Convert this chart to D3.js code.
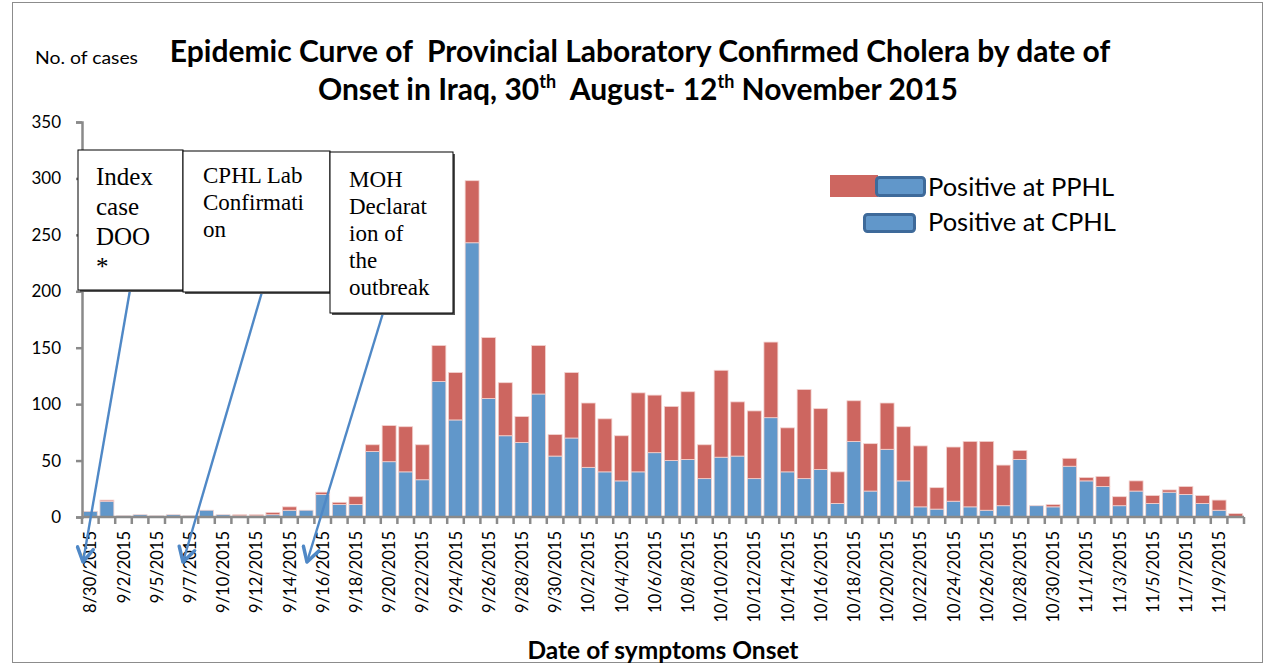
<!DOCTYPE html>
<html><head><meta charset="utf-8">
<script src="https://cdn.jsdelivr.net/npm/d3@7"></script>
<style>
html,body{margin:0;padding:0;background:#fff;}
svg{display:block;}
</style></head>
<body>
<svg id="chart" width="1270" height="666"></svg>
<script>
// ---------- DATA ----------
const dates = ["8/30/2015","8/31/2015","9/2/2015","9/3/2015","9/5/2015","9/6/2015","9/7/2015","9/8/2015","9/10/2015","9/11/2015",
"9/12/2015","9/13/2015","9/14/2015","9/15/2015","9/16/2015","9/17/2015","9/18/2015","9/19/2015","9/20/2015","9/21/2015",
"9/22/2015","9/23/2015","9/24/2015","9/25/2015","9/26/2015","9/27/2015","9/28/2015","9/29/2015","9/30/2015","10/1/2015",
"10/2/2015","10/3/2015","10/4/2015","10/5/2015","10/6/2015","10/7/2015","10/8/2015","10/9/2015","10/10/2015","10/11/2015",
"10/12/2015","10/13/2015","10/14/2015","10/15/2015","10/16/2015","10/17/2015","10/18/2015","10/19/2015","10/20/2015","10/21/2015",
"10/22/2015","10/23/2015","10/24/2015","10/25/2015","10/26/2015","10/27/2015","10/28/2015","10/29/2015","10/30/2015","10/31/2015",
"11/1/2015","11/2/2015","11/3/2015","11/4/2015","11/5/2015","11/6/2015","11/7/2015","11/8/2015","11/9/2015","11/10/2015"];

const positiveCPHL = [5,14,1,2,1,2,1,6,2,1,
1,2,6,6,20,11,11,58,49,40,
33,120,86,243,105,72,66,109,54,70,
44,40,32,40,57,50,51,34,53,54,
34,88,40,34,42,12,67,23,60,32,
9,7,14,9,6,10,51,10,9,45,
32,27,10,23,12,22,20,12,6,0];

const positivePPHL = [0,1,0,0,0,0,0,0,0,1,
1,2,3,0,2,2,7,6,32,40,
31,32,42,55,54,47,23,43,19,58,
57,47,40,70,51,48,60,30,77,48,
60,67,39,79,54,28,36,42,41,48,
54,19,48,58,61,36,8,0,2,7,
3,9,8,9,7,2,7,7,9,3];

const tickLabels = ["8/30/2015","9/2/2015","9/5/2015","9/7/2015","9/10/2015","9/12/2015","9/14/2015","9/16/2015","9/18/2015",
"9/20/2015","9/22/2015","9/24/2015","9/26/2015","9/28/2015","9/30/2015","10/2/2015","10/4/2015","10/6/2015","10/8/2015",
"10/10/2015","10/12/2015","10/14/2015","10/16/2015","10/18/2015","10/20/2015","10/22/2015","10/24/2015","10/26/2015",
"10/28/2015","10/30/2015","11/1/2015","11/3/2015","11/5/2015","11/7/2015","11/9/2015"];

const yTicks = [0,50,100,150,200,250,300,350];

const seriesNames = ["Positive at CPHL","Positive at PPHL"];
const seriesColors = ["#6197CA","#CD6660"];

// ---------- LAYOUT ----------
const svg = d3.select("#chart");
const FONT = "Lato, 'Open Sans', sans-serif";
const x0 = 82, x1 = 1244, yTop = 122, yBase = 517;

// outer frame
svg.append("rect").attr("x",12.5).attr("y",2.5).attr("width",1250).attr("height",660)
  .attr("fill","none").attr("stroke","#8c8c8c").attr("stroke-width",1);

const x = d3.scaleBand().domain(dates).range([x0,x1]).paddingInner(0.16).paddingOuter(0.08);
const y = d3.scaleLinear().domain([0,350]).range([yBase,yTop]);

const table = dates.map((d,i)=>({date:d, cphl:positiveCPHL[i], pphl:positivePPHL[i]}));
const stack = d3.stack().keys(["cphl","pphl"])(table);

const g = svg.append("g");
g.selectAll("g.series").data(stack).join("g")
  .attr("fill",(d,i)=>seriesColors[i])
  .selectAll("rect").data(d=>d).join("rect")
  .attr("x",d=>x(d.data.date))
  .attr("width",x.bandwidth())
  .attr("y",d=>y(d[1]))
  .attr("height",d=>Math.max(0,y(d[0])-y(d[1])))
  .attr("stroke","#f3d3d0").attr("stroke-width",0.8);

// Y axis
const yAxis = d3.axisLeft(y).tickValues(yTicks).tickSize(6).tickPadding(15);
const ya = svg.append("g").attr("transform",`translate(${x0},0)`).call(yAxis);
ya.select(".domain").attr("stroke","#8a8a8a").attr("stroke-width",2.5);
ya.selectAll(".tick line").attr("stroke","#8a8a8a").attr("stroke-width",2.5);
ya.selectAll(".tick text").attr("font-family",FONT).attr("font-size",17).attr("fill","#000");

// X axis: ticks at category boundaries
const xAxisG = svg.append("g");
xAxisG.append("line").attr("x1",x0).attr("x2",x1).attr("y1",yBase).attr("y2",yBase)
  .attr("stroke","#8a8a8a").attr("stroke-width",2.5);
xAxisG.selectAll("line.tk").data(dates.concat(["end"])).join("line").attr("class","tk")
  .attr("x1",(d,i)=>x0 + (x1-x0)*i/dates.length).attr("x2",(d,i)=>x0 + (x1-x0)*i/dates.length)
  .attr("y1",yBase).attr("y2",yBase+7).attr("stroke","#8a8a8a").attr("stroke-width",2.5);
xAxisG.selectAll("text.lbl").data(dates.filter(d=>tickLabels.includes(d))).join("text").attr("class","lbl")
  .attr("transform",d=>`translate(${x(d)+x.bandwidth()/2+6},${yBase+14}) rotate(-90)`)
  .attr("text-anchor","end").attr("font-family",FONT).attr("font-size",16.5).attr("fill","#000")
  .text(d=>d);

// Axis titles
svg.append("text").attr("x",663).attr("y",659).attr("text-anchor","middle")
  .attr("font-family",FONT).attr("font-weight","bold").attr("font-size",24.5).text("Date of symptoms Onset");
svg.append("text").attr("x",35).attr("y",64)
  .attr("font-family",FONT).attr("font-size",17).attr("textLength",103).attr("lengthAdjust","spacingAndGlyphs")
  .text("No. of cases");

// Title
const t1 = svg.append("text").attr("x",640).attr("y",62).attr("text-anchor","middle")
  .attr("font-family",FONT).attr("font-weight","bold").attr("font-size",30).attr("xml:space","preserve")
  .text("Epidemic Curve of  Provincial Laboratory Confirmed Cholera by date of");
const t2 = svg.append("text").attr("x",638).attr("y",100).attr("text-anchor","middle")
  .attr("font-family",FONT).attr("font-weight","bold").attr("font-size",30).attr("xml:space","preserve");
t2.append("tspan").text("Onset in Iraq, 30");
t2.append("tspan").attr("font-size",18).attr("dy",-12).text("th");
t2.append("tspan").attr("dy",12).text("  August- 12");
t2.append("tspan").attr("font-size",18).attr("dy",-12).text("th");
t2.append("tspan").attr("dy",12).text(" November 2015");

// Legend
const lg = svg.append("g");
lg.append("rect").attr("x",830).attr("y",175).attr("width",48).attr("height",22).attr("fill",seriesColors[1]);
lg.append("rect").attr("x",876.5).attr("y",177.5).attr("width",48).attr("height",18).attr("rx",3)
  .attr("fill",seriesColors[0]).attr("stroke","#3E6A9A").attr("stroke-width",3);
lg.append("text").attr("x",928).attr("y",196).attr("font-family",FONT).attr("font-size",25.5).text(seriesNames[1]);
lg.append("rect").attr("x",864.5).attr("y",214.5).attr("width",50).attr("height",17).attr("rx",3)
  .attr("fill",seriesColors[0]).attr("stroke","#3E6A9A").attr("stroke-width",3);
lg.append("text").attr("x",928).attr("y",231).attr("font-family",FONT).attr("font-size",25.5).text(seriesNames[0]);

// Annotation boxes
const SERIF = "'Liberation Serif', 'DejaVu Serif', serif";
const boxes = [
  {x:78,y:150,w:105,h:140,tx:96,ty:185,lh:30,fs:25,lines:["Index","case","DOO","*"], from:[130,290], to:[83,562]},
  {x:183,y:151,w:147,h:141,tx:203,ty:183,lh:27,fs:23,lines:["CPHL Lab","Confirmati","on"], from:[262,292], to:[183,562]},
  {x:330,y:152,w:123,h:161,tx:349,ty:187,lh:27,fs:23,lines:["MOH","Declarat","ion of","the","outbreak"], from:[383,313], to:[307,562]}
];
const defs = svg.append("defs");
defs.append("marker").attr("id","arr").attr("viewBox","0 0 20 20").attr("refX",17).attr("refY",10)
  .attr("markerUnits","userSpaceOnUse").attr("markerWidth",20).attr("markerHeight",20).attr("orient","auto")
  .append("path").attr("d","M3,2 L17,10 L3,18").attr("fill","none").attr("stroke","#4F88C6")
  .attr("stroke-width",3.5).attr("stroke-linecap","round").attr("stroke-linejoin","round");
boxes.forEach(b=>{
  svg.append("line").attr("x1",b.from[0]).attr("y1",b.from[1]).attr("x2",b.to[0]).attr("y2",b.to[1])
    .attr("stroke","#4F88C6").attr("stroke-width",2.4).attr("marker-end","url(#arr)");
});
boxes.forEach(b=>{
  svg.append("rect").attr("x",b.x+2).attr("y",b.y+2).attr("width",b.w).attr("height",b.h).attr("fill","#555");
  svg.append("rect").attr("x",b.x).attr("y",b.y).attr("width",b.w).attr("height",b.h)
    .attr("fill","#fff").attr("stroke","#000").attr("stroke-width",1);
  b.lines.forEach((l,i)=>{
    svg.append("text").attr("x",b.tx).attr("y",b.ty+i*b.lh).attr("font-family",SERIF)
      .attr("font-size",b.fs).text(l);
  });
});
</script>
</body></html>
